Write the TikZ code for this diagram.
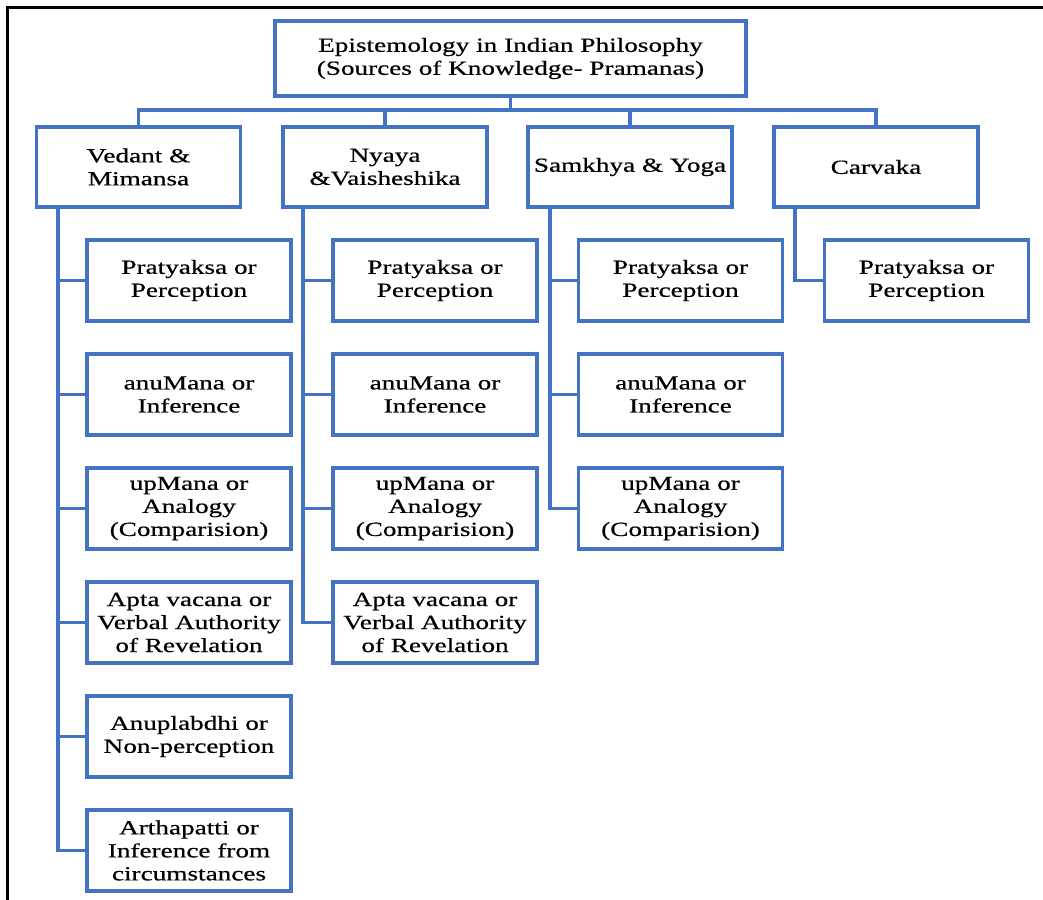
\documentclass[tikz,border=0pt]{standalone}
\usepackage{fontspec}
\setmainfont[FakeStretch=1.36,FakeBold=0.6]{Liberation Serif}
\definecolor{boxblue}{RGB}{68,114,196}
\begin{document}
\begin{tikzpicture}[x=1pt,y=-1pt,
  every node/.style={font=\fontsize{20}{23}\selectfont, align=center, text=black},
  topbox/.style={draw=boxblue, line width=3.2pt, minimum width=471pt, minimum height=75pt, inner sep=0pt},
  schoolbox/.style={draw=boxblue, line width=3.2pt, minimum width=204pt, minimum height=80pt, inner sep=0pt},
  leafbox/.style={draw=boxblue, line width=3.2pt, minimum width=204pt, minimum height=81pt, inner sep=0pt},
  link/.style={draw=boxblue, line width=3.2pt}]
\useasboundingbox (0,0) rectangle (1043,899);
\fill[white] (0,0) rectangle (1043,899);
\draw[line width=3.2pt, black] (7.5,900) -- (7.5,7.5) -- (1044,7.5);

\node[topbox] (top) at (510.5,58.5) {Epistemology in Indian Philosophy\\(Sources of Knowledge- Pramanas)};

\node[schoolbox] (ved) at (138.5,167) {Vedant \&\\Mimansa};
\node[schoolbox] (nya) at (385,167) {Nyaya\\\&Vaisheshika};
\node[schoolbox] (sam) at (630,167) {Samkhya \& Yoga};
\node[schoolbox] (car) at (876,167) {Carvaka};

\coordinate (bus) at (0,110);
\draw[link] (top.south) -- (top.south |- bus);
\draw[link] (ved.north) -- (ved.north |- bus) -| (car.north);
\draw[link] (nya.north) -- (nya.north |- bus);
\draw[link] (sam.north) -- (sam.north |- bus);

% Vedant & Mimansa
\node[leafbox] (v1) at (189,280.5) {Pratyaksa or\\Perception};
\node[leafbox] (v2) at (189,394.5) {anuMana or\\Inference};
\node[leafbox] (v3) at (189,508.5) {upMana or\\Analogy\\(Comparision)};
\node[leafbox] (v4) at (189,622.5) {Apta vacana or\\Verbal Authority\\of Revelation};
\node[leafbox] (v5) at (189,736.5) {Anuplabdhi or\\Non-perception};
\node[leafbox] (v6) at (189,850.5) {Arthapatti or\\Inference from\\circumstances};
\coordinate (vt) at (58,0);
\foreach \c in {v1,v2,v3,v4,v5,v6} \draw[link] (vt |- ved.south) |- (\c.west);

% Nyaya & Vaisheshika
\node[leafbox] (n1) at (435,280.5) {Pratyaksa or\\Perception};
\node[leafbox] (n2) at (435,394.5) {anuMana or\\Inference};
\node[leafbox] (n3) at (435,508.5) {upMana or\\Analogy\\(Comparision)};
\node[leafbox] (n4) at (435,622.5) {Apta vacana or\\Verbal Authority\\of Revelation};
\coordinate (nt) at (303,0);
\foreach \c in {n1,n2,n3,n4} \draw[link] (nt |- nya.south) |- (\c.west);

% Samkhya & Yoga
\node[leafbox] (s1) at (680.5,280.5) {Pratyaksa or\\Perception};
\node[leafbox] (s2) at (680.5,394.5) {anuMana or\\Inference};
\node[leafbox] (s3) at (680.5,508.5) {upMana or\\Analogy\\(Comparision)};
\coordinate (st) at (550,0);
\foreach \c in {s1,s2,s3} \draw[link] (st |- sam.south) |- (\c.west);

% Carvaka
\node[leafbox] (c1) at (926.5,280.5) {Pratyaksa or\\Perception};
\coordinate (ct) at (795,0);
\draw[link] (ct |- car.south) |- (c1.west);
\end{tikzpicture}
\end{document}
